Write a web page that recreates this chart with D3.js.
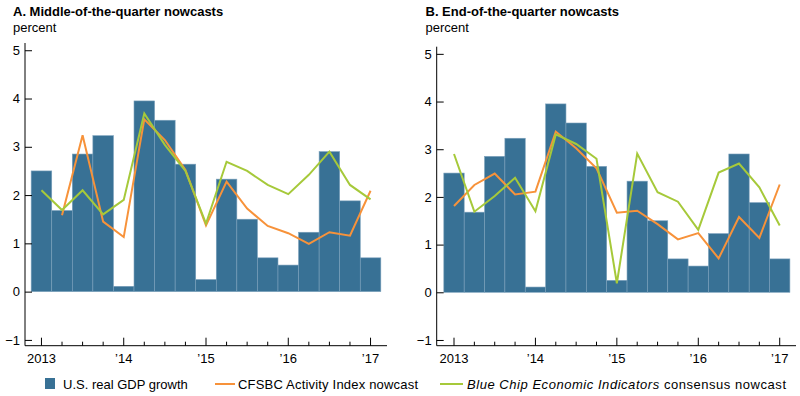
<!DOCTYPE html>
<html>
<head>
<meta charset="utf-8">
<script src="https://cdn.jsdelivr.net/npm/d3@7"></script>
<style>
  body { margin: 0; background: #fff; }
  svg { display: block; font-family: "Liberation Sans", Arial, Helvetica, sans-serif; }
</style>
</head>
<body>
<div id="chart"></div>
<script>
// quarters 2013:Q1 .. 2017:Q1
var quarters = ["2013Q1","2013Q2","2013Q3","2013Q4","2014Q1","2014Q2","2014Q3","2014Q4",
  "2015Q1","2015Q2","2015Q3","2015Q4","2016Q1","2016Q2","2016Q3","2016Q4","2017Q1"];

var gdpGrowth = [2.50, 1.68, 2.85, 3.23, 0.11, 3.95, 3.55, 2.64, 0.25, 2.33, 1.50, 0.70, 0.55, 1.23, 2.90, 1.88, 0.70];

// panel A: middle of the quarter
var cfsbcMid = [null, 1.58, 3.24, 1.45, 1.13, 3.57, 3.14, 2.52, 1.37, 2.28, 1.72, 1.36, 1.21, 0.99, 1.23, 1.16, 2.09];
var blueChipMid = [2.10, 1.69, 2.10, 1.60, 1.90, 3.69, 3.04, 2.50, 1.41, 2.69, 2.50, 2.21, 2.02, 2.42, 2.90, 2.21, 1.91];

// panel B: end of the quarter
var cfsbcEnd = [1.81, 2.25, 2.49, 2.05, 2.11, 3.37, 3.02, 2.60, 1.67, 1.71, 1.43, 1.11, 1.24, 0.71, 1.58, 1.14, 2.26];
var blueChipEnd = [2.90, 1.69, 2.02, 2.40, 1.70, 3.31, 3.11, 2.80, 0.19, 2.91, 2.10, 1.90, 1.31, 2.51, 2.70, 2.20, 1.40];

var yTicks = [-1, 0, 1, 2, 3, 4, 5];
var yearTickIdx = [0, 4, 8, 12, 16];
var yearLabels = ["2013", "\u201914", "\u201915", "\u201916", "\u201917"];

var barColor = "#387195";
var orange = "#f7923a";
var green = "#a6c93a";

var svg = d3.select("#chart").append("svg")
  .attr("width", 800)
  .attr("height", 396);

function drawPanel(p) {
  var g = svg.append("g");

  var x = d3.scaleLinear().domain([p.xMin, 16.8]).range([p.left, p.right]);
  var y = d3.scaleLinear().domain([-1.12, 5.15]).range([345.7, p.top]);

  // title + unit
  g.append("text")
    .attr("x", p.titleX).attr("y", 16)
    .attr("font-size", 13).attr("font-weight", "bold")
    .text(p.title);
  g.append("text")
    .attr("x", p.titleX).attr("y", 32)
    .attr("font-size", 13)
    .text("percent");

  // bars
  g.selectAll("rect.bar").data(gdpGrowth).enter()
    .append("rect")
    .attr("class", "bar")
    .attr("x", (d, i) => x(i - 0.5))
    .attr("width", (d, i) => x(i + 0.5) - x(i - 0.5))
    .attr("y", d => y(Math.max(d, 0)))
    .attr("height", d => Math.abs(y(d) - y(0)))
    .attr("fill", barColor)
    .attr("stroke", "#7aa0bb")
    .attr("stroke-width", 0.6);

  var line = d3.line()
    .defined(d => d != null)
    .x((d, i) => x(i))
    .y(d => y(d));

  g.append("path")
    .datum(p.cfsbc)
    .attr("fill", "none")
    .attr("stroke", orange)
    .attr("stroke-width", 2)
    .attr("d", line);

  g.append("path")
    .datum(p.blueChip)
    .attr("fill", "none")
    .attr("stroke", green)
    .attr("stroke-width", 2)
    .attr("d", line);

  // y axis, ticks inward
  var yAxis = d3.axisRight(y)
    .tickValues(yTicks)
    .tickSize(7)
    .tickFormat(d => d < 0 ? "\u2212" + Math.abs(d) : d);
  var ya = g.append("g")
    .attr("transform", `translate(${p.left},0)`)
    .call(yAxis);
  ya.select(".domain").attr("d", `M0,${y.range()[0]}V${y.range()[1]}`).attr("stroke", "#000");
  ya.selectAll(".tick line").attr("stroke", "#000");
  ya.selectAll(".tick text")
    .attr("x", -5)
    .attr("text-anchor", "end")
    .attr("font-size", 13)
    .attr("font-family", null)
    .attr("fill", "#000");

  // x axis, ticks pointing up
  var xa = g.append("g").attr("transform", "translate(0,345.7)");
  xa.append("line")
    .attr("x1", p.left).attr("x2", p.right)
    .attr("stroke", "#000");
  xa.selectAll("line.q").data(quarters).enter()
    .append("line")
    .attr("class", "q")
    .attr("x1", (d, i) => x(i)).attr("x2", (d, i) => x(i))
    .attr("y1", 0)
    .attr("y2", (d, i) => yearTickIdx.indexOf(i) >= 0 ? -8 : -4)
    .attr("stroke", "#000");
  xa.selectAll("text").data(yearTickIdx).enter()
    .append("text")
    .attr("x", d => x(d))
    .attr("y", 17)
    .attr("text-anchor", "middle")
    .attr("font-size", 13)
    .text((d, i) => yearLabels[i]);
}

drawPanel({
  title: "A. Middle-of-the-quarter nowcasts",
  titleX: 13, left: 25, right: 387, top: 43, xMin: -0.8,
  cfsbc: cfsbcMid, blueChip: blueChipMid
});

drawPanel({
  title: "B. End-of-the-quarter nowcasts",
  titleX: 425.5, left: 436.7, right: 796, top: 46.7, xMin: -0.85,
  cfsbc: cfsbcEnd, blueChip: blueChipEnd
});

// legend
var legend = svg.append("g").attr("font-size", 13);
legend.append("rect")
  .attr("x", 45).attr("y", 378).attr("width", 10).attr("height", 11)
  .attr("fill", barColor);
legend.append("text").attr("x", 63).attr("y", 389).text("U.S. real GDP growth");

legend.append("line")
  .attr("x1", 215).attr("x2", 235).attr("y1", 384).attr("y2", 384)
  .attr("stroke", orange).attr("stroke-width", 2);
legend.append("text").attr("x", 238).attr("y", 389)
  .attr("textLength", 180).attr("lengthAdjust", "spacing")
  .text("CFSBC Activity Index nowcast");

legend.append("line")
  .attr("x1", 440).attr("x2", 463).attr("y1", 384).attr("y2", 384)
  .attr("stroke", green).attr("stroke-width", 2);
var t = legend.append("text").attr("x", 467).attr("y", 389)
  .attr("textLength", 319).attr("lengthAdjust", "spacing");
t.append("tspan").attr("font-style", "italic").text("Blue Chip Economic Indicators");
t.append("tspan").text(" consensus nowcast");
</script>
</body>
</html>
